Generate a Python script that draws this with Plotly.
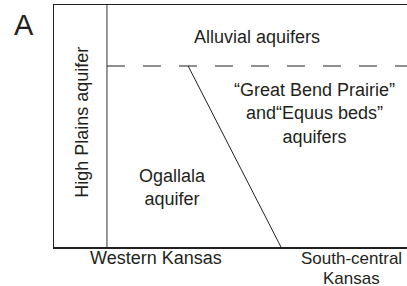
import plotly.graph_objects as go

# Schematic data (normalized distance 0..1 west->east, normalized depth 0..1 bottom->top)
high_plains_boundary_x = [0.15, 0.15]
high_plains_boundary_y = [0.0, 1.0]
alluvial_base_x = [0.15, 1.0]
alluvial_base_y = [0.748, 0.748]
ogallala_edge_x = [0.38, 0.643]
ogallala_edge_y = [0.748, 0.0]

region_labels = ["Alluvial aquifers",
                 "\u201cGreat Bend Prairie\u201d<br>and\u201cEquus beds\u201d<br>aquifers",
                 "Ogallala<br>aquifer"]
region_x = [0.576, 0.739, 0.337]
region_y = [0.868, 0.55, 0.246]

FONT = "Liberation Sans, Arial, Helvetica, sans-serif"
TXT = "#231f20"

fig = go.Figure()
fig.add_trace(go.Scatter(x=high_plains_boundary_x, y=high_plains_boundary_y, mode="lines",
                         line=dict(color="#555555", width=1.2), cliponaxis=False, hoverinfo="skip"))
fig.add_trace(go.Scatter(x=alluvial_base_x, y=alluvial_base_y, mode="lines",
                         line=dict(color="#231f20", width=1.2, dash="18px,18px"), cliponaxis=False, hoverinfo="skip"))
fig.add_trace(go.Scatter(x=ogallala_edge_x, y=ogallala_edge_y, mode="lines",
                         line=dict(color="#231f20", width=1), cliponaxis=False, hoverinfo="skip"))


def label(text, x, y, size=18, angle=0, height=None):
    d = dict(text=text, x=x, y=y, xref="paper", yref="paper", showarrow=False,
             xanchor="center", yanchor="middle", textangle=angle, align="center",
             font=dict(family=FONT, size=size, color=TXT))
    if height:
        d["height"] = height
    return d


ann = [label(t, x, y) for t, x, y in zip(region_labels, region_x, region_y)]
ann.append(label("High Plains aquifer", 0.079, 0.517, angle=-90))
ann.append(label("Western Kansas", 0.288, -0.044))
ann.append(label("South-central", 0.843, -0.045, size=17, height=16))
ann.append(label("Kansas", 0.843, -0.128, size=17, height=16))
ann.append(label("A", -0.085, 0.919, size=29))

fig.update_layout(
    width=407, height=286,
    margin=dict(l=54, r=0, t=5, b=39),
    paper_bgcolor="white", plot_bgcolor="white",
    showlegend=False,
    annotations=ann,
    xaxis=dict(range=[0, 1], showgrid=False, zeroline=False, showticklabels=False, ticks="",
               showline=True, linecolor="#231f20", linewidth=1.5, mirror=True, fixedrange=True),
    yaxis=dict(range=[0, 1], showgrid=False, zeroline=False, showticklabels=False, ticks="",
               showline=True, linecolor="#231f20", linewidth=1.5, fixedrange=True),
)
fig.write_html("out.html", config={"displayModeBar": False, "staticPlot": True},
               post_script="document.body.style.margin='0px';document.body.style.overflow='hidden';")
